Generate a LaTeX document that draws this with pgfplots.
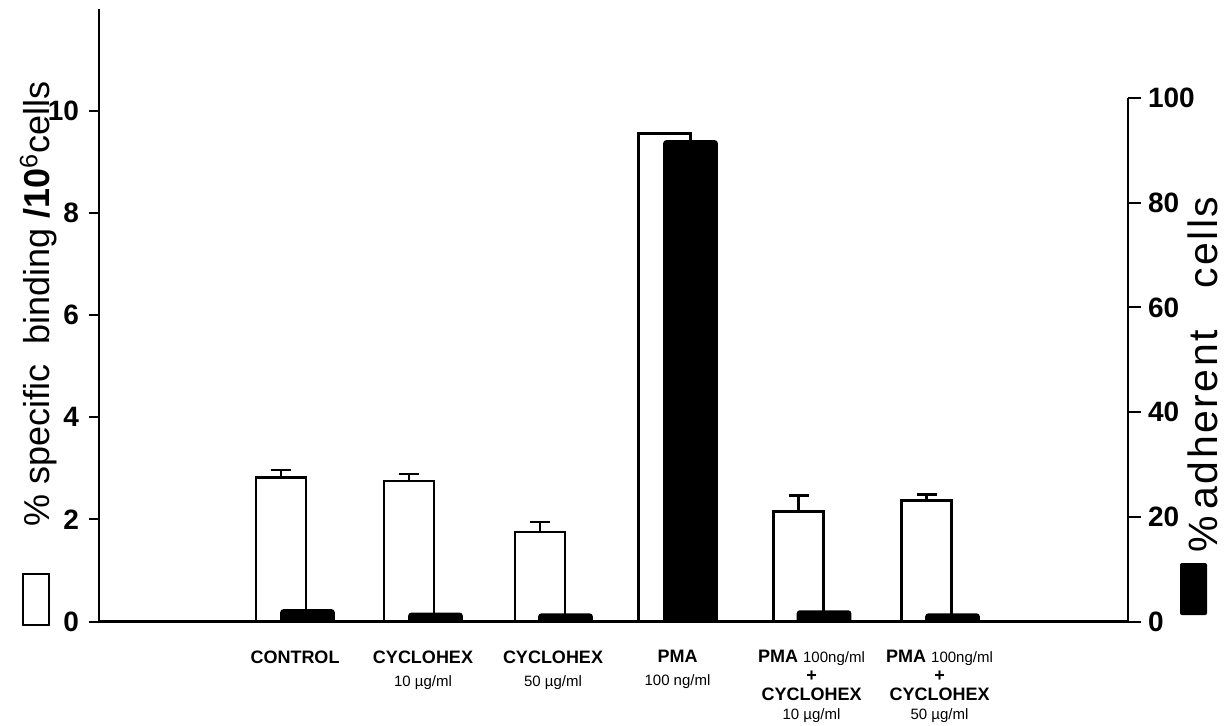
\documentclass[border=0pt]{standalone}
\usepackage{fontspec}
\setmainfont{Liberation Sans}
\usepackage{pgfplots}
\pgfplotsset{compat=1.18}
\newcommand{\smallconc}[1]{{\fontsize{7.5}{8}\selectfont #1}}
\begin{document}
\begin{tikzpicture}
\begin{axis}[
  at={(0,0)}, anchor=south west,
  scale only axis, width=514.5pt, height=306.25pt,
  xmin=99, xmax=1128, ymin=0, ymax=12,
  axis x line=bottom, axis y line=left,
  axis line style={-, line width=1.3pt},
  ytick={0,2,4,6,8,10},
  tick align=outside,
  major tick length=5pt,
  y tick style={line width=1pt, black},
  xtick={295,423,553,677.5,811.5,939.5},
  xticklabels={
    \textbf{CONTROL},
    {\textbf{CYCLOHEX}\\[2pt]\smallconc{10 µg/ml}},
    {\textbf{CYCLOHEX}\\[2pt]\smallconc{50 µg/ml}},
    {\textbf{PMA}\\[2pt]\smallconc{100 ng/ml}},
    {\textbf{PMA} \smallconc{100ng/ml}\\\textbf{+}\\\textbf{CYCLOHEX}\\\smallconc{10 µg/ml}},
    {\textbf{PMA} \smallconc{100ng/ml}\\\textbf{+}\\\textbf{CYCLOHEX}\\\smallconc{50 µg/ml}}
  },
  x tick style={draw=none},
  xticklabel style={anchor=north, align=center, font=\fontsize{9}{9.5}\selectfont, yshift=-6pt},
  yticklabel style={font=\fontsize{14}{14}\selectfont\bfseries, xshift=-1.5pt},
  /pgf/number format/assume math mode=true,
  clip=false,
]
\addplot[ybar, bar width=50, bar shift=0pt, fill=white, draw=black, line width=1.3pt,
  error bars/.cd, y dir=plus, y explicit,
  error bar style={line width=1.1pt},
  error mark options={line width=1.1pt, mark size=5pt, rotate=90}]
  table[x=x, y=y, y error=e] {
x y e
281 2.82 0.15
409 2.75 0.14
540 1.75 0.20
798.5 2.16 0.31
926.5 2.37 0.12
};
\addplot[ybar, bar width=52, bar shift=0pt, fill=white, draw=black, line width=1.3pt]
  coordinates {(664.5,9.56)};
\end{axis}
\begin{axis}[
  at={(0,0)}, anchor=south west,
  scale only axis, width=514.5pt, height=261.75pt,
  xmin=99, xmax=1128, ymin=0, ymax=100,
  axis y line=right, axis x line=none,
  axis line style={-, line width=1.3pt},
  xtick=\empty,
  ytick={0,20,40,60,80,100},
  tick align=outside,
  major tick length=6.5pt,
  y tick style={line width=1pt, black},
  yticklabel style={font=\fontsize{14}{14}\selectfont\bfseries},
  /pgf/number format/assume math mode=true,
  clip=false,
]
\addplot[ybar, bar width=52, bar shift=0pt, fill=black, draw=black, line width=1.3pt, rounded corners=1pt]
  coordinates {(307.5,2.1) (435.5,1.45) (565.5,1.3) (690.5,91.7) (824,1.9) (952.5,1.3)};
\end{axis}
% axis titles
\draw[line width=1.2pt] (-38pt,-1.75pt) rectangle (-25pt,23.75pt);
\node[rotate=90, anchor=base west, inner sep=0pt, font=\fontsize{18}{18}\selectfont] at (-24.5pt,47.25pt)
  {\% specific\ \ binding \textbf{/10}\textsuperscript{6}cells};
\fill[black, rounded corners=1pt] (540.5pt,3.25pt) rectangle (554pt,29.25pt);
\node[rotate=90, anchor=base west, inner sep=0pt, font=\fontsize{20.5}{20.5}\selectfont\addfontfeatures{LetterSpace=6}] at (559pt,34.25pt)
  {\%\,adherent\ \ \ cells};
\pgfresetboundingbox
\path (-49.5pt,-51.75pt) rectangle (562.5pt,310.75pt);
\end{tikzpicture}
\end{document}
